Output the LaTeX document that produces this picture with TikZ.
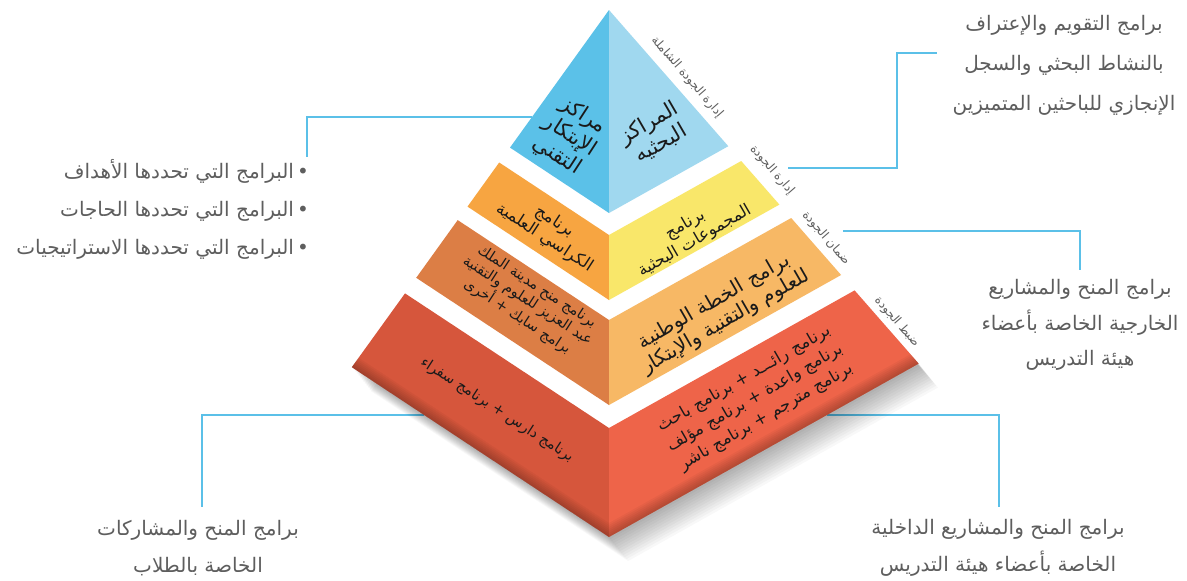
\documentclass[tikz,border=0pt]{standalone}
\usepackage{fontspec}
\usepackage{xcolor}
\usetikzlibrary{positioning}
\newfontfamily\arabicfont[Script=Arabic]{DejaVu Sans}
\TeXXeTstate=1
\newcommand{\rl}[1]{\beginR #1\endR}

\definecolor{linkblue}{HTML}{5BC0E8}
\definecolor{blueL}{HTML}{5BC1E8}
\definecolor{blueR}{HTML}{A0D8EF}
\definecolor{orangeL}{HTML}{F7A541}
\definecolor{yellowR}{HTML}{F9E76A}
\definecolor{rustL}{HTML}{DC7E45}
\definecolor{peachR}{HTML}{F7B865}
\definecolor{redL}{HTML}{D6563C}
\definecolor{redR}{HTML}{EE6449}
\definecolor{textgray}{HTML}{5E5E5E}
\definecolor{inktext}{HTML}{1A1A1A}

\begin{document}
\begin{tikzpicture}[x=1pt,y=-1pt,
    link/.style={draw=linkblue,line width=2.6pt},
    sidetext/.style={font=\arabicfont\fontsize{20}{40}\selectfont,text=textgray,align=center,inner sep=0pt},
    facetext/.style={font=\arabicfont\fontsize{14}{18}\selectfont,text=inktext,align=center,inner sep=0pt},
    edgetext/.style={font=\arabicfont\fontsize{12}{13}\selectfont,text=textgray,inner sep=0pt,rotate=-49}]
    \fill[white] (0,0) rectangle (1187,581);
    \useasboundingbox (0,0) rectangle (1187,581);

    % corners of the pyramid bands
    \coordinate (apex) at (609,10);
    \coordinate (b1l) at (510,147.6); \coordinate (b1c) at (609,213); \coordinate (b1r) at (728.3,146.2);
    \coordinate (t2l) at (499.2,162.5); \coordinate (t2c) at (609,235); \coordinate (t2r) at (741.2,161);
    \coordinate (b2l) at (467.5,206.6); \coordinate (b2c) at (609,300); \coordinate (b2r) at (779.4,204.6);
    \coordinate (t3l) at (457.7,220.1); \coordinate (t3c) at (609,320); \coordinate (t3r) at (791.2,218);
    \coordinate (b3l) at (416.2,277.8); \coordinate (b3c) at (609,405); \coordinate (b3r) at (841.1,275);
    \coordinate (t4l) at (405,293.4); \coordinate (t4c) at (609,428); \coordinate (t4r) at (854.6,290.4);
    \coordinate (b4l) at (351.8,367.2); \coordinate (b4c) at (609,537); \coordinate (b4r) at (918.7,363.6);

    % connector ends
    \coordinate (c1s) at (532,117); \coordinate (c1e) at (307,157);
    \coordinate (c2s) at (788,168); \coordinate (c2e) at (897,53); \coordinate (c2f) at (937,53);
    \coordinate (c3s) at (843,231); \coordinate (c3e) at (1080,270);
    \coordinate (c4s) at (424,415); \coordinate (c4e) at (202,507);
    \coordinate (c5s) at (827,415); \coordinate (c5e) at (999,507);

    \draw[link] (c1s) -| (c1e);
    \draw[link] (c2s) -| (c2e) -- (c2f);
    \draw[link] (c3s) -| (c3e);
    \draw[link] (c4s) -| (c4e);
    \draw[link] (c5s) -| (c5e);

    % soft shadow
    \foreach \s in {2,4,...,24}
        \fill[black,opacity=.028,transform canvas={shift={(\s*0.8,\s)}}]
            (t4l) -- (t4c) -- (t4r) -- (b4r) -- (b4c) -- (b4l) -- cycle;

    % faces
    \fill[blueL] (apex) -- (b1l) -- (b1c) -- cycle;
    \fill[blueR] (apex) -- (b1c) -- (b1r) -- cycle;
    \fill[orangeL] (t2l) -- (t2c) -- (b2c) -- (b2l) -- cycle;
    \fill[yellowR] (t2c) -- (t2r) -- (b2r) -- (b2c) -- cycle;
    \fill[rustL] (t3l) -- (t3c) -- (b3c) -- (b3l) -- cycle;
    \fill[peachR] (t3c) -- (t3r) -- (b3r) -- (b3c) -- cycle;
    \fill[redL] (t4l) -- (t4c) -- (b4c) -- (b4l) -- cycle;
    \fill[redR] (t4c) -- (t4r) -- (b4r) -- (b4c) -- cycle;

    % darker rim along the bottom of the lowest band
    \begin{scope}
        \clip (t4l) -- (t4c) -- (t4r) -- (b4r) -- (b4c) -- (b4l) -- cycle;
        \foreach \s in {2,4,...,14}
            \fill[black,opacity=.035,transform canvas={shift={(0,-\s)}}]
                (b4l) -- (b4c) -- (b4r) -- (940,600) -- (330,600) -- cycle;
    \end{scope}

    % texts on the faces
    \node[facetext,font=\arabicfont\fontsize{21}{24}\selectfont,rotate=-33] (innov) at (570,136) {\rl{مراكز}\\\rl{الإبتكار}\\\rl{التقني}};
    \node[facetext,font=\arabicfont\fontsize{21}{24}\selectfont,rotate=30] (centers) at (655,133) {\rl{المراكز}\\\rl{البحثيه}};
    \node[facetext,font=\arabicfont\fontsize{16.5}{19}\selectfont,rotate=-33] (chairs) at (550,230) {\rl{برنامج}\\\rl{الكراسي العلمية}};
    \node[facetext,font=\arabicfont\fontsize{16.5}{19}\selectfont,rotate=30] (groups) at (690,233) {\rl{برنامج}\\\rl{المجموعات البحثية}};
    \node[facetext,font=\arabicfont\fontsize{14.5}{17}\selectfont,rotate=-33] (kacst) at (527,302) {\rl{برنامج منح مدينة الملك}\\\rl{عبد العزيز للعلوم والتقنية}\\\rl{برامج سابك + أخرى}};
    \node[facetext,font=\arabicfont\fontsize{20}{23}\selectfont,rotate=30] (plan) at (720,312) {\rl{برامج الخطة الوطنية}\\\rl{للعلوم والتقنية والإبتكار}};
    \node[facetext,font=\arabicfont\fontsize{14.5}{18}\selectfont,rotate=-33] (darisprog) at (497,410) {\rl{برنامج دارس + برنامج سفراء}};
    \node[facetext,font=\arabicfont\fontsize{16.5}{22}\selectfont,rotate=30] (raidprog) at (755,398) {\rl{برنامج رائـــد + برنامج باحث}\\\rl{برنامج واعدة + برنامج مؤلف}\\\rl{برنامج مترجم + برنامج ناشر}};

    % labels along the right edge
    \node[edgetext] (tqm) at (687,77) {\rl{إدارة الجودة الشاملة}};
    \node[edgetext] (qm) at (772,170) {\rl{إدارة الجودة}};
    \node[edgetext] (qa) at (826,238) {\rl{ضمان الجودة}};
    \node[edgetext] (qc) at (897,322) {\rl{ضبط الجودة}};

    % side texts
    \node[sidetext] (award) at (1064,65) {\rl{برامج التقويم والإعتراف}\\\rl{بالنشاط البحثي والسجل}\\\rl{الإنجازي للباحثين المتميزين}};
    \node[sidetext,font=\arabicfont\fontsize{20}{38}\selectfont,align=right,anchor=east] (goals) at (309,209) {\rl{•\hspace{3pt}البرامج التي تحددها الأهداف}\\\rl{•\hspace{3pt}البرامج التي تحددها الحاجات}\\\rl{•\hspace{3pt}البرامج التي تحددها الاستراتيجيات}};
    \node[sidetext,font=\arabicfont\fontsize{20}{35.5}\selectfont] (external) at (1080,325) {\rl{برامج المنح والمشاريع}\\\rl{الخارجية الخاصة بأعضاء}\\\rl{هيئة التدريس}};
    \node[sidetext,font=\arabicfont\fontsize{20}{37}\selectfont] (students) at (198,548) {\rl{برامج المنح والمشاركات}\\\rl{الخاصة بالطلاب}};
    \node[sidetext,font=\arabicfont\fontsize{20}{37}\selectfont] (internal) at (998,548) {\rl{برامج المنح والمشاريع الداخلية}\\\rl{الخاصة بأعضاء هيئة التدريس}};
\end{tikzpicture}
\end{document}
